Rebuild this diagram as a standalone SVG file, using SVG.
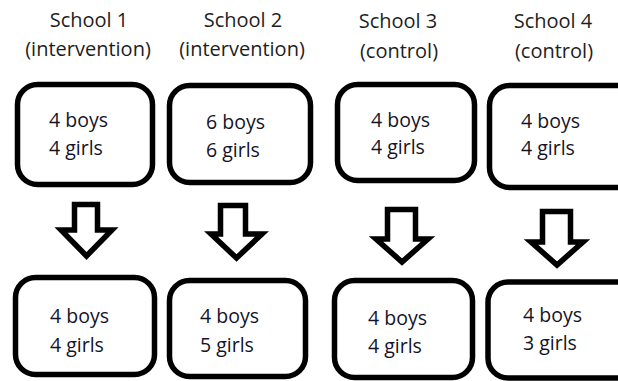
<svg xmlns="http://www.w3.org/2000/svg" width="618" height="381" viewBox="0 0 618 381">
<style>
.box{fill:#fff;stroke:#000;stroke-width:5.5}
.arr{fill:#fff;stroke:#000;stroke-width:5.5;stroke-linejoin:miter}
.t{font-family:"Open Sans","Liberation Sans",sans-serif;font-size:20px;fill:#1e1e1e;text-anchor:middle}
.b{font-family:"Open Sans","Liberation Sans",sans-serif;font-size:19.5px;fill:#141428}
</style>
<rect width="618" height="381" fill="#fff"/>
<g id="titles">
<text class="t" x="89" y="27">School 1</text>
<text class="t" x="88" y="56">(intervention)</text>
<text class="t" x="243" y="27">School 2</text>
<text class="t" x="242" y="56">(intervention)</text>
<text class="t" x="398" y="28">School 3</text>
<text class="t" x="399" y="58">(control)</text>
<text class="t" x="553" y="28">School 4</text>
<text class="t" x="554" y="58">(control)</text>
</g>
<g id="connectors">
<polygon class="arr" points="74.5,204.5 97.5,204.5 97.5,230 112,230 86.5,256 61,230 74.5,230"/>
<polygon class="arr" points="220.5,205.5 245.5,205.5 245.5,234 262,234 236.5,258 211,234 220.5,234"/>
<polygon class="arr" points="387.5,209.5 415.5,209.5 415.5,239 428,239 402,262 376,239 387.5,239"/>
<polygon class="arr" points="542.5,211.5 570.5,211.5 570.5,242 583,242 557,265 531,242 542.5,242"/>
</g>
<g id="s1-before">
<rect class="box" x="17.5" y="84.5" width="135" height="100" rx="20"/>
<text class="b" x="49" y="127">4 boys</text>
<text class="b" x="49" y="155">4 girls</text>
</g>
<g id="s2-before">
<rect class="box" x="169.5" y="85.5" width="141" height="97" rx="20"/>
<text class="b" x="206" y="129">6 boys</text>
<text class="b" x="206" y="157">6 girls</text>
</g>
<g id="s3-before">
<rect class="box" x="337.5" y="84.5" width="137" height="96" rx="20"/>
<text class="b" x="371" y="127">4 boys</text>
<text class="b" x="371" y="154">4 girls</text>
</g>
<g id="s4-before">
<rect class="box" x="489.5" y="85.5" width="150" height="102" rx="20"/>
<text class="b" x="521" y="128">4 boys</text>
<text class="b" x="521" y="155">4 girls</text>
</g>
<g id="s1-after">
<rect class="box" x="15.5" y="277.5" width="139" height="97" rx="20"/>
<text class="b" x="50" y="323">4 boys</text>
<text class="b" x="50" y="352">4 girls</text>
</g>
<g id="s2-after">
<rect class="box" x="169.5" y="280.5" width="136" height="96" rx="20"/>
<text class="b" x="200" y="323">4 boys</text>
<text class="b" x="200" y="352">5 girls</text>
</g>
<g id="s3-after">
<rect class="box" x="334.5" y="280.5" width="138" height="97" rx="20"/>
<text class="b" x="368" y="325">4 boys</text>
<text class="b" x="368" y="353">4 girls</text>
</g>
<g id="s4-after">
<rect class="box" x="488" y="282" width="150" height="96" rx="20"/>
<text class="b" x="523" y="322">4 boys</text>
<text class="b" x="523" y="350">3 girls</text>
</g>
</svg>
